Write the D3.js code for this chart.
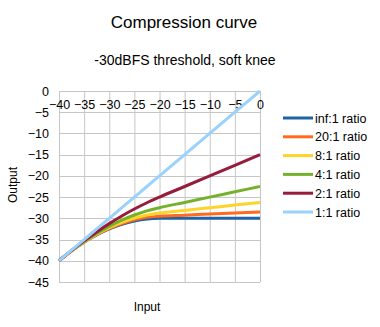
<!DOCTYPE html>
<html><head><meta charset="utf-8">
<script src="https://d3js.org/d3.v7.min.js"></script>
<style>body{margin:0;background:#fff}svg{display:block}text{font-family:"Liberation Sans",Arial,sans-serif;fill:#000}</style>
</head><body>
<script>
const inputs = [-40, -37.5, -35, -32.5, -30, -27.5, -25, -22.5, -20, -15, -10, -5, 0];
const seriesNames = ["inf:1 ratio", "20:1 ratio", "8:1 ratio", "4:1 ratio", "2:1 ratio", "1:1 ratio"];
const seriesColors = ["#1f62a6", "#ff6a1c", "#ffd42a", "#76b12d", "#971c3b", "#99d2ff"];
const infRatio  = [-40, -37.66, -35.63, -33.91, -32.5, -31.41, -30.63, -30.16, -30, -30, -30, -30, -30];
const ratio20   = [-40, -37.65, -35.59, -33.84, -32.38, -31.21, -30.34, -29.77, -29.5, -29.25, -29, -28.75, -28.5];
const ratio8    = [-40, -37.64, -35.55, -33.73, -32.19, -30.92, -29.92, -29.2, -28.75, -28.13, -27.5, -26.88, -26.25];
const ratio4    = [-40, -37.62, -35.47, -33.55, -31.88, -30.43, -29.22, -28.24, -27.5, -26.25, -25, -23.75, -22.5];
const ratio2    = [-40, -37.58, -35.31, -33.2, -31.25, -29.45, -27.81, -26.33, -25, -22.5, -20, -17.5, -15];
const ratio1    = [-40, -37.5, -35, -32.5, -30, -27.5, -25, -22.5, -20, -15, -10, -5, 0];
const xTicks = [-40, -35, -30, -25, -20, -15, -10, -5, 0];
const yTicks = [0, -5, -10, -15, -20, -25, -30, -35, -40, -45];

const series = [infRatio, ratio20, ratio8, ratio4, ratio2, ratio1];
const W = 380, H = 327;
const svg = d3.select("body").append("svg").attr("width", W).attr("height", H);

const x = d3.scaleLinear().domain([-40, 0]).range([59, 260]);
const y = d3.scaleLinear().domain([0, -45]).range([91, 282]);

// grid
const g = svg.append("g");
g.selectAll(".vg").data(xTicks).enter().append("line")
  .attr("x1", d => x(d) + 0.5).attr("x2", d => x(d) + 0.5)
  .attr("y1", y(0)).attr("y2", y(-45))
  .attr("stroke", "#c6c6c6").attr("stroke-width", 1);
g.selectAll(".hg").data(yTicks).enter().append("line")
  .attr("x1", x(-40)).attr("x2", x(0))
  .attr("y1", d => Math.round(y(d)) + 0.5).attr("y2", d => Math.round(y(d)) + 0.5)
  .attr("stroke", "#c6c6c6").attr("stroke-width", 1);

// y axis labels
const yAxis = d3.axisLeft(y).tickValues(yTicks).tickSize(0).tickPadding(10).tickFormat(d3.format("d"));
const ya = svg.append("g").attr("transform", `translate(${x(-40)},0)`).call(yAxis);
ya.select(".domain").remove();
ya.selectAll("text").style("font-size", "12.5px").style("font-family", '"Liberation Sans",Arial,sans-serif').attr("fill", "#000");

// x axis labels at top
const xAxis = d3.axisBottom(x).tickValues(xTicks).tickSize(0).tickPadding(9).tickFormat(d3.format("d"));
const xa = svg.append("g").attr("transform", `translate(0,${y(0)})`).call(xAxis);
xa.select(".domain").remove();
xa.selectAll("text").style("font-size", "12.5px").style("font-family", '"Liberation Sans",Arial,sans-serif').attr("fill", "#000");

// lines
const line = d3.line().x((d, i) => x(inputs[i])).y(d => y(d)).curve(d3.curveMonotoneX);
series.forEach((s, i) => {
  svg.append("path").datum(s).attr("d", line)
    .attr("fill", "none").attr("stroke", seriesColors[i]).attr("stroke-width", 3)
    .attr("stroke-linejoin", "round");
});

// titles
svg.append("text").attr("x", 184).attr("y", 28).attr("text-anchor", "middle")
  .style("font-size", "17px").text("Compression curve");
svg.append("text").attr("x", 185).attr("y", 65).attr("text-anchor", "middle")
  .style("font-size", "14px").text("-30dBFS threshold, soft knee");
svg.append("text").attr("transform", "translate(17,185) rotate(-90)").attr("text-anchor", "middle")
  .style("font-size", "12px").text("Output");
svg.append("text").attr("x", 147).attr("y", 311).attr("text-anchor", "middle")
  .style("font-size", "12px").text("Input");

// legend
const lg = svg.append("g");
seriesNames.forEach((n, i) => {
  const yy = 118 + i * 18.8;
  lg.append("line").attr("x1", 283).attr("x2", 313).attr("y1", yy).attr("y2", yy)
    .attr("stroke", seriesColors[i]).attr("stroke-width", 3);
  lg.append("text").attr("x", 315).attr("y", yy + 4.5).style("font-size", "12.5px").text(n);
});
</script>
</body></html>
